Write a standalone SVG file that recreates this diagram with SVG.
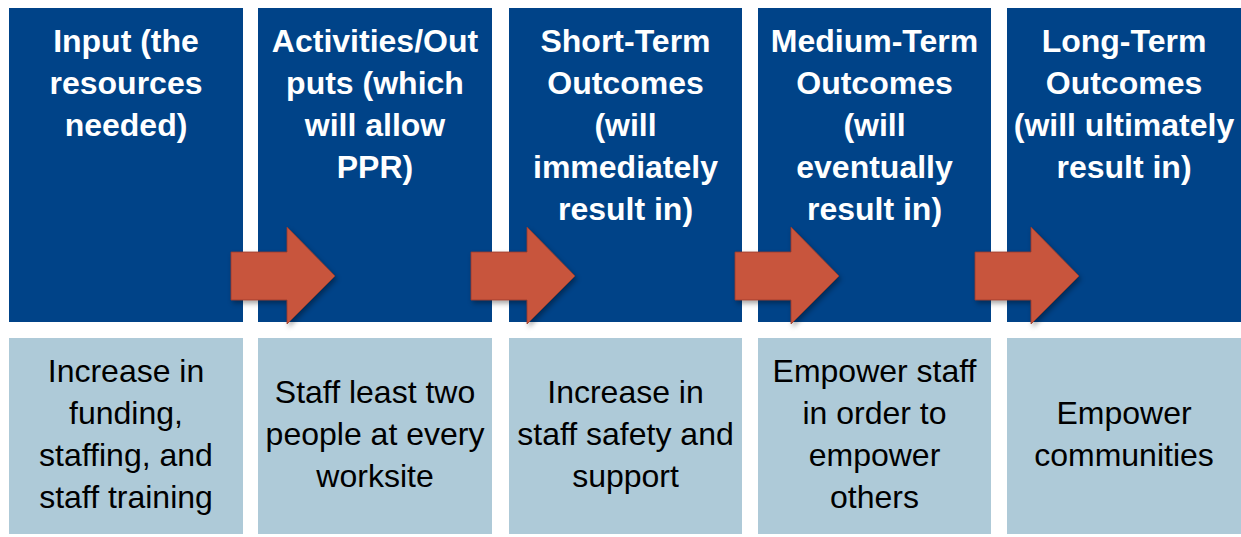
<svg xmlns="http://www.w3.org/2000/svg" width="1241" height="537" viewBox="0 0 1241 537">
<style>
.hd{fill:#004388}
.bd{fill:#AECAD8}
.ht{font-family:"Liberation Sans",Arial,sans-serif;font-weight:bold;font-size:32px;fill:#ffffff;text-anchor:middle}
.bt{font-family:"Liberation Sans",Arial,sans-serif;font-size:32px;fill:#000000;text-anchor:middle}
.ar{fill:#C8553C;stroke:#9A3B28;stroke-width:0.8}
</style>
<defs>
<filter id="sh" x="-20%" y="-20%" width="150%" height="150%">
<feDropShadow dx="2" dy="3" stdDeviation="2.5" flood-color="#000" flood-opacity="0.35"/>
</filter>
<polygon id="arrow" points="0,25 56,25 56,0 104,49 56,97 56,73 0,73"/>
</defs>
<g id="node-input">
<rect class="hd" x="9" y="8" width="234" height="314"/>
<text class="ht" x="126" y="52">Input (the</text>
<text class="ht" x="126" y="94">resources</text>
<text class="ht" x="126" y="136">needed)</text>
<rect class="bd" x="9" y="338" width="234" height="196"/>
<text class="bt" x="126" y="382">Increase in</text>
<text class="bt" x="126" y="424">funding,</text>
<text class="bt" x="126" y="466">staffing, and</text>
<text class="bt" x="126" y="508">staff training</text>
</g>
<g id="node-activities">
<rect class="hd" x="258" y="8" width="234" height="314"/>
<text class="ht" x="375" y="52">Activities/Out</text>
<text class="ht" x="375" y="94">puts (which</text>
<text class="ht" x="375" y="136">will allow</text>
<text class="ht" x="375" y="178">PPR)</text>
<rect class="bd" x="258" y="338" width="234" height="196"/>
<text class="bt" x="375" y="403">Staff least two</text>
<text class="bt" x="375" y="445">people at every</text>
<text class="bt" x="375" y="487">worksite</text>
</g>
<g id="node-short">
<rect class="hd" x="509" y="8" width="233" height="314"/>
<text class="ht" x="625.5" y="52">Short-Term</text>
<text class="ht" x="625.5" y="94">Outcomes</text>
<text class="ht" x="625.5" y="136">(will</text>
<text class="ht" x="625.5" y="178">immediately</text>
<text class="ht" x="625.5" y="220">result in)</text>
<rect class="bd" x="509" y="338" width="233" height="196"/>
<text class="bt" x="625.5" y="403">Increase in</text>
<text class="bt" x="625.5" y="445">staff safety and</text>
<text class="bt" x="625.5" y="487">support</text>
</g>
<g id="node-medium">
<rect class="hd" x="758" y="8" width="233" height="314"/>
<text class="ht" x="874.5" y="52">Medium-Term</text>
<text class="ht" x="874.5" y="94">Outcomes</text>
<text class="ht" x="874.5" y="136">(will</text>
<text class="ht" x="874.5" y="178">eventually</text>
<text class="ht" x="874.5" y="220">result in)</text>
<rect class="bd" x="758" y="338" width="233" height="196"/>
<text class="bt" x="874.5" y="382">Empower staff</text>
<text class="bt" x="874.5" y="424">in order to</text>
<text class="bt" x="874.5" y="466">empower</text>
<text class="bt" x="874.5" y="508">others</text>
</g>
<g id="node-long">
<rect class="hd" x="1007" y="8" width="234" height="314"/>
<text class="ht" x="1124" y="52">Long-Term</text>
<text class="ht" x="1124" y="94">Outcomes</text>
<text class="ht" x="1124" y="136">(will ultimately</text>
<text class="ht" x="1124" y="178">result in)</text>
<rect class="bd" x="1007" y="338" width="234" height="196"/>
<text class="bt" x="1124" y="424">Empower</text>
<text class="bt" x="1124" y="466">communities</text>
</g>
<g id="connectors" filter="url(#sh)">
<use href="#arrow" class="ar" x="231" y="227"/>
<use href="#arrow" class="ar" x="471" y="227"/>
<use href="#arrow" class="ar" x="735" y="227"/>
<use href="#arrow" class="ar" x="975" y="227"/>
</g>
</svg>
